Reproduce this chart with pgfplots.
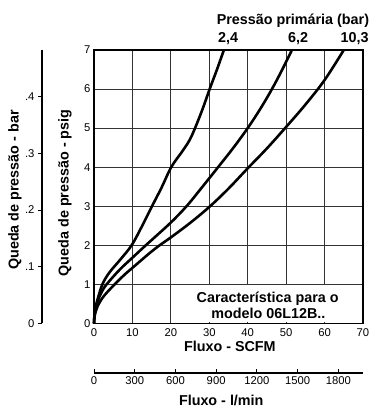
\documentclass[border=0pt]{standalone}
\usepackage{fontspec}
\setmainfont{Liberation Sans}
\usepackage{pgfplots}
\pgfplotsset{compat=1.18}
\newcommand{\tickfont}{\fontsize{11.3}{12}\selectfont}
\newcommand{\labfont}{\fontsize{14.4}{16}\selectfont\bfseries}
\pgfplotsset{curve/.style={black, line width=2.6pt, smooth, tension=0.6, mark=none}}
\begin{document}
\begin{tikzpicture}
\useasboundingbox (-94bp,-83.7bp) rectangle (280bp,323.3bp);
% main axis: psig over SCFM
\begin{axis}[
  at={(0,0)}, anchor=south west,
  scale only axis, width=269bp, height=273.3bp,
  xmin=0, xmax=70, ymin=0, ymax=7,
  xtick={0,10,...,70}, ytick={0,1,...,7},
  grid=major,
  major grid style={black!80, line width=0.8pt},
  major tick length=0pt,
  axis line style={line width=1.3pt},
  tick label style={font=\tickfont},
  xticklabel style={yshift=-1.5bp},
  /pgf/number format/assume math mode=true,
  xlabel={Fluxo - SCFM},
  xlabel style={font=\labfont, at={(axis description cs:0.505,-0.0831)}, anchor=center},
  ylabel={Queda de pressão - psig},
  ylabel style={font=\labfont, at={(axis description cs:-0.1078,0.4768)}, anchor=center},
  clip=false,
]
\fill[white] (axis cs:22,0.03) rectangle (axis cs:69.8,0.97);
% 2,4 bar
\addplot[curve] coordinates {(0,0) (0.15,0.25) (0.5,0.45) (1,0.64) (2.2,1) (4,1.3) (7,1.65) (9.8,2) (12.4,2.47) (15,2.98) (17.6,3.48) (20.1,4) (22.8,4.38) (24.8,4.68) (26.3,5) (28.3,5.5) (30.1,6) (32,6.5) (33.8,7)};
% 6,2 bar
\addplot[curve] coordinates {(0,0) (0.15,0.22) (0.5,0.42) (1,0.58) (2,0.8) (3.3,1) (6.75,1.38) (10,1.68) (13.5,2) (17,2.31) (20.2,2.6) (24.1,3) (28,3.47) (32.3,4) (36.3,4.5) (40,5) (43.2,5.48) (46.2,5.98) (49,6.5) (51.5,7)};
% 10,3 bar
\addplot[curve] coordinates {(0,0) (0.15,0.17) (0.5,0.32) (1,0.45) (2.5,0.69) (5.3,0.99) (8,1.25) (10,1.42) (12,1.59) (14.5,1.8) (17.1,2) (20,2.2) (25,2.57) (30,2.98) (35,3.45) (40,3.97) (45,4.48) (50,5.03) (55,5.6) (60,6.23) (65,7)};
\node[font=\labfont, anchor=base east] at (axis cs:72.5,7.645) {Pressão primária (bar)};
\node[font=\labfont, anchor=base] at (axis cs:34.9,7.19) {2,4};
\node[font=\labfont, anchor=base] at (axis cs:53.1,7.19) {6,2};
\node[font=\labfont, anchor=base] at (axis cs:67.8,7.19) {10,3};
\node[font=\labfont, anchor=base] at (axis cs:45.2,0.54) {Característica para o};
\node[font=\labfont, anchor=base] at (axis cs:45.4,0.128) {modelo 06L12B..};
\end{axis}
% bar scale
\begin{axis}[
  at={(-52bp,0)}, anchor=south west,
  scale only axis, width=10bp, height=273.3bp,
  xmin=0, xmax=1, ymin=0, ymax=0.48263,
  hide x axis, axis y line*=left,
  axis line style={-, line width=1.3pt},
  ytick={0,0.1,0.2,0.3,0.4}, yticklabels={0,.1,.2,.3,.4},
  tick align=outside, major tick length=4bp,
  tick style={black, line width=1pt},
  tick label style={font=\tickfont},
  ylabel={Queda de pressão - bar},
  ylabel style={font=\labfont, at={(axis description cs:-2.7,0.4877)}, anchor=center},
]
\end{axis}
% l/min scale
\begin{axis}[
  at={(0,-49.7bp)}, anchor=south west,
  scale only axis, width=269bp, height=10bp,
  xmin=0, xmax=1982.2, ymin=0, ymax=1,
  hide y axis, axis x line*=bottom,
  axis line style={-, line width=1.3pt},
  xtick={0,300,...,1800},
  tick align=inside, major tick length=4bp,
  tick style={black, line width=1pt},
  tick label style={font=\tickfont},
  /pgf/number format/assume math mode=true,
  /pgf/number format/1000 sep={},
  xlabel={Fluxo - l/min},
  xlabel style={font=\labfont, at={(axis description cs:0.473,-2.7)}, anchor=center},
]
\end{axis}
\end{tikzpicture}
\end{document}
